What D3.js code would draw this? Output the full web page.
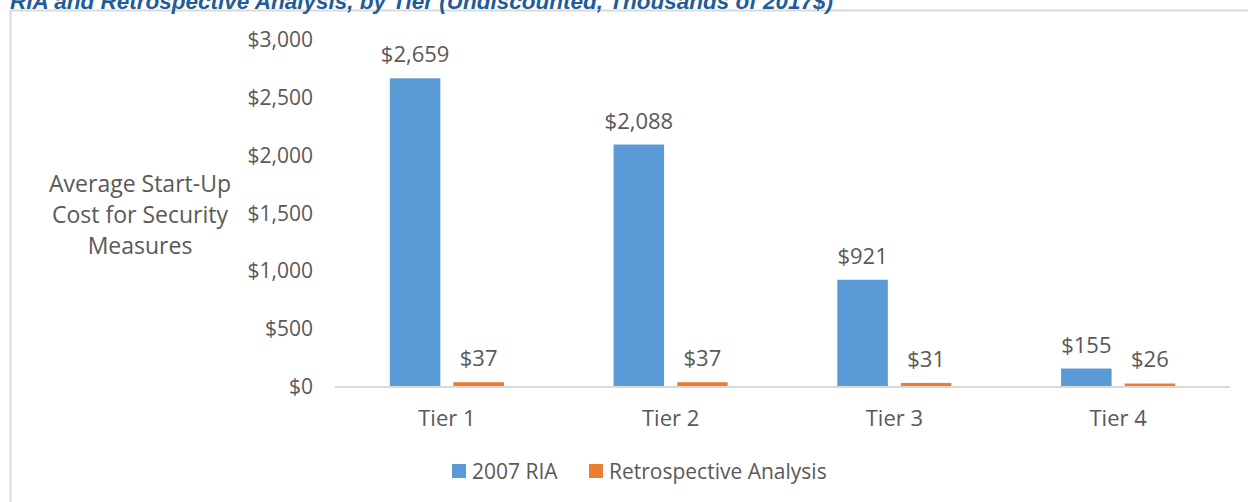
<!DOCTYPE html>
<html>
<head>
<meta charset="utf-8">
<script src="https://cdn.jsdelivr.net/npm/d3@7"></script>
<style>
  body { margin: 0; background: #fff; }
  svg { display: block; }
  text { font-family: "Open Sans", "Noto Sans", sans-serif; fill: #595959; }
</style>
</head>
<body>
<svg id="canvas" width="1248" height="502"></svg>
<script>
const tiers = ["Tier 1", "Tier 2", "Tier 3", "Tier 4"];
const seriesNames = ["2007 RIA", "Retrospective Analysis"];
const ria2007 = [2659, 2088, 921, 155];
const retrospective = [37, 37, 31, 26];
const yTicks = [0, 500, 1000, 1500, 2000, 2500, 3000];
const colors = ["#5B9BD5", "#ED7D31"];

const svg = d3.select("#canvas");

// chart frame (partly off-screen, like the clipped screenshot)
svg.append("rect")
   .attr("x", 10.5).attr("y", 10.5)
   .attr("width", 1300).attr("height", 600)
   .attr("fill", "none")
   .attr("stroke", "#d9d9d9")
   .attr("stroke-width", 2);

// title, cut off at the top
svg.append("text")
   .attr("x", 10).attr("y", 9)
   .style("font-family", "'Liberation Sans', Arial, sans-serif")
   .style("font-weight", "bold")
   .style("font-style", "italic")
   .style("font-size", "22.5px")
   .style("fill", "#1F5C99")
   .text("RIA and Retrospective Analysis, by Tier (Undiscounted, Thousands of 2017$)");

const plotLeft = 335, plotRight = 1230;

let x0 = d3.scaleBand()
           .domain(tiers)
           .range([plotLeft, plotRight])
           .paddingInner(0.49)
           .paddingOuter(0.245);

let x1 = d3.scaleBand()
           .domain(seriesNames)
           .range([0, x0.bandwidth()])
           .paddingInner(0.205);

let y = d3.scaleLinear()
          .domain([0, 3000])
          .range([386.5, 38.8]);

let fmt = (v) => "$" + d3.format(",")(v);

// y tick labels
let yAxis = d3.axisLeft(y)
              .tickValues(yTicks)
              .tickSize(0)
              .tickPadding(0)
              .tickFormat(fmt);

let yG = svg.append("g")
            .attr("transform", "translate(313,0)")
            .call(yAxis);
yG.select(".domain").remove();
yG.selectAll("text")
  .style("font-family", null)
  .attr("font-size", null)
  .style("font-size", "21px")
  .attr("dy", "0.35em");

// y axis title
let yTitle = ["Average Start-Up", "Cost for Security", "Measures"];
svg.append("text")
   .attr("text-anchor", "middle")
   .style("font-size", "23px")
   .selectAll("tspan")
   .data(yTitle)
   .enter()
   .append("tspan")
   .attr("x", 140)
   .attr("y", (d, i) => 192 + i * 31)
   .text((d) => d);

// bars
let rows = tiers.map((t, i) => ({ tier: t, values: [ria2007[i], retrospective[i]] }));

let group = svg.selectAll("g.tier")
               .data(rows)
               .enter()
               .append("g")
               .attr("class", "tier")
               .attr("transform", (d) => `translate(${x0(d.tier)},0)`);

group.selectAll("rect")
     .data((d) => d.values.map((v, j) => ({ key: seriesNames[j], value: v, j: j })))
     .enter()
     .append("rect")
     .attr("x", (d) => x1(d.key))
     .attr("y", (d) => y(d.value))
     .attr("width", x1.bandwidth())
     .attr("height", (d) => y(0) - y(d.value))
     .attr("fill", (d) => colors[d.j]);

group.selectAll("text.lbl")
     .data((d) => d.values.map((v, j) => ({ key: seriesNames[j], value: v })))
     .enter()
     .append("text")
     .attr("class", "lbl")
     .attr("x", (d) => x1(d.key) + x1.bandwidth() / 2)
     .attr("y", (d) => y(d.value) - 16)
     .attr("text-anchor", "middle")
     .style("font-size", "22px")
     .text((d) => fmt(d.value));

// baseline
svg.append("line")
   .attr("x1", plotLeft).attr("x2", plotRight)
   .attr("y1", y(0) + 0.5).attr("y2", y(0) + 0.5)
   .attr("stroke", "#d9d9d9")
   .attr("stroke-width", 2);

// category labels
svg.selectAll("text.cat")
   .data(tiers)
   .enter()
   .append("text")
   .attr("class", "cat")
   .attr("x", (d) => x0(d) + x0.bandwidth() / 2)
   .attr("y", 426)
   .attr("text-anchor", "middle")
   .style("font-size", "22px")
   .text((d) => d);

// legend
let legendX = [452, 589];
let legend = svg.selectAll("g.legend")
                .data(seriesNames)
                .enter()
                .append("g")
                .attr("class", "legend")
                .attr("transform", (d, i) => `translate(${legendX[i]},464)`);

legend.append("rect")
      .attr("width", 14).attr("height", 14)
      .attr("fill", (d, i) => colors[i]);

legend.append("text")
      .attr("x", 20).attr("y", 14.5)
      .style("font-size", "21px")
      .text((d) => d);
</script>
</body>
</html>
